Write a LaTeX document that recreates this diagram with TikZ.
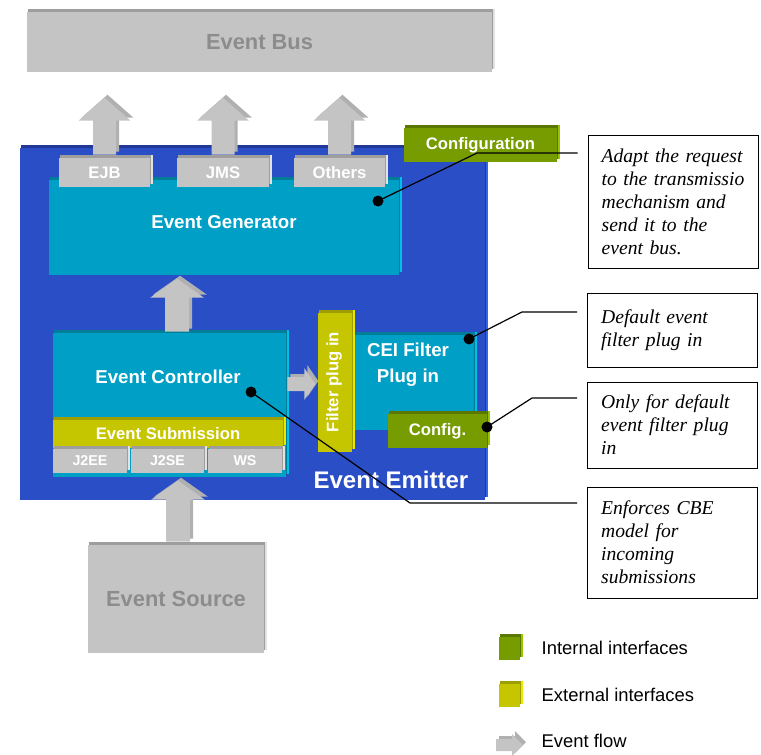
\documentclass[tikz,border=0pt]{standalone}
\usepackage{fontspec}
\setmainfont{Liberation Sans}
\newfontfamily\notefont{Liberation Serif}
\usetikzlibrary{calc,shadows}

\definecolor{emitterblue}{RGB}{42,78,198}
\definecolor{emittertop}{RGB}{34,56,150}
\definecolor{emitterside}{RGB}{52,100,238}
\definecolor{boxcyan}{RGB}{0,159,198}
\definecolor{cyantop}{RGB}{0,126,152}
\definecolor{cyanside}{RGB}{0,192,232}
\definecolor{intgreen}{RGB}{118,156,0}
\definecolor{greentop}{RGB}{90,120,0}
\definecolor{greenside}{RGB}{152,196,0}
\definecolor{extyellow}{RGB}{198,198,0}
\definecolor{yellowtop}{RGB}{158,158,0}
\definecolor{yellowside}{RGB}{232,232,0}
\definecolor{plaingray}{RGB}{196,196,196}
\definecolor{graytop}{RGB}{158,158,158}
\definecolor{grayside}{RGB}{226,226,226}
\definecolor{graytext}{RGB}{140,140,140}
\definecolor{flowside}{RGB}{176,176,176}

\tikzset{
    dims/.style 2 args={minimum width=#1*0.75pt, minimum height=#2*0.75pt},
    slab/.style n args={3}{inner sep=0pt, draw=none, fill=#1,
        copy shadow={shadow xshift=2.25pt, shadow yshift=2.25pt, fill=#3, draw=none},
        copy shadow={shadow xshift=1.1pt, shadow yshift=2.25pt, fill=#2, draw=none}},
    emitter/.style = {slab={emitterblue}{emittertop}{emitterside}},
    part/.style = {slab={boxcyan}{cyantop}{cyanside}},
    intface/.style = {slab={intgreen}{greentop}{greenside}, text=white, font=\bfseries\fontsize{12.5}{14}\selectfont},
    extface/.style = {slab={extyellow}{yellowtop}{yellowside}, text=white, font=\bfseries\fontsize{12.5}{14}\selectfont},
    outside/.style = {slab={plaingray}{graytop}{grayside}, text=graytext, font=\bfseries\fontsize{16.4}{18}\selectfont},
    tab/.style = {slab={plaingray}{graytop}{grayside}, text=white, font=\bfseries\fontsize{12.5}{14}\selectfont},
    subtab/.style = {tab, font=\bfseries\fontsize{10.7}{12}\selectfont},
    partlabel/.style = {text=white, align=center, font=\bfseries\fontsize{14}{19.5}\selectfont},
    flow/.style = {fill=plaingray, copy shadow={shadow xshift=2.25pt, shadow yshift=2.25pt, fill=flowside, draw=none}},
    note/.style = {draw=black, line width=0.75pt, fill=white, text width=107pt, inner xsep=10.25pt, align=left,
        font=\notefont\itshape\fontsize{14.7}{17.3}\selectfont},
    hotspot/.style = {fill=black, circle, inner sep=0pt, minimum size=8.25pt},
    leader/.style = {draw=black, line width=0.9pt},
    keytext/.style = {anchor=west, font=\fontsize{13.8}{16}\selectfont}
}

% block arrows: base point, length, shaft half width, head half width, head length (in px)
\newcommand{\flowup}[5]{%
  \fill[flow] (#1) ++(-#3,0) -- ++(0,{-(#2-#5)}) -- ++({#3-#4},0) -- ++(#4,-#5) -- ++(#4,#5) -- ++({#3-#4},0) -- ++(0,{#2-#5}) -- cycle;}
\newcommand{\flowright}[5]{%
  \fill[flow] (#1) ++(0,-#3) -- ++({#2-#5},0) -- ++(0,{#3-#4}) -- ++(#5,#4) -- ++(-#5,#4) -- ++(0,{#3-#4}) -- ++({-(#2-#5)},0) -- cycle;}

\begin{document}
\begin{tikzpicture}[x=0.75pt, y=-0.75pt]
\useasboundingbox (0,0) rectangle (761,754);

% bus and emitter
\node (bus) [outside, dims={465}{60}] at (259.5,42) {Event Bus};
\node (emitter) [emitter, dims={465}{352}] at (252.5,324) {};
\node (generator) [part, dims={350}{95}] at (224,227.5) {};
\node (genlabel) [partlabel] at (224,222) {Event Generator};

% transports
\node (ejb) [tab, dims={91}{29}] at (104.5,172.5) {EJB};
\node (jms) [tab, dims={92}{29}] at (223,172.5) {JMS};
\node (others) [tab, dims={91}{29}] at (339.5,172.5) {Others};
\flowup{$(ejb.north)+(0,-3)$}{57}{11.5}{26}{23}
\flowup{$(jms.north)+(0,-3)$}{57}{11.5}{26}{23}
\flowup{$(others.north)+(0,-3)$}{57}{11.5}{26}{23}
\node (config) [intface, dims={153}{34}] at (480.5,145) {Configuration};

% controller
\node (controller) [part, dims={233}{144}] at (169.5,405) {};
\node (ctrllabel) [partlabel] at (168,377) {Event Controller};
\node (submission) [extface, dims={230}{28}] at (168,434) {Event Submission};
\node (j2ee) [subtab, dims={74}{24}] at (90,461) {J2EE};
\node (j2se) [subtab, dims={73}{24}] at (167.5,461) {J2SE};
\node (ws) [subtab, dims={74}{24}] at (245,461) {WS};
\flowup{$(controller.north)+(7.5,-1)$}{53}{12}{27}{19}

% filter
\node (cei) [part, dims={119}{95}] at (414.5,382.5) {};
\node (ceilabel) [partlabel] at (408,365) {CEI Filter\\Plug in};
\node (plug) [extface, dims={34}{139}] at (335,382.5) {};
\node (pluglabel) [text=white, rotate=90, font=\bfseries\fontsize{12.5}{14}\selectfont] at (334,382) {Filter plug in};
\node (cfg) [intface, dims={99}{34}] at (437.5,431) {Config.};
\flowright{$(controller.east)+(1,-21)$}{28}{7}{16}{11}
\node (emitterlabel) [text=white, font=\bfseries\fontsize{18}{20}\selectfont] at (391,480) {Event Emitter};

% source
\node (source) [outside, dims={176}{108}] at (176,599) {Event Source};
\flowup{$(source.north)+(2,-3)$}{61}{12}{27}{19}

% legend
\node (keyint) [intface, dims={21}{23}] at (509.5,648.5) {};
\node (keyinttext) [keytext] at (537,648) {Internal interfaces};
\node (keyext) [extface, dims={21}{23}] at (509.5,695.5) {};
\node (keyexttext) [keytext] at (537,695) {External interfaces};
\coordinate (flowkey) at (496,745);
\flowright{flowkey}{27}{6}{11}{11}
\node (keyflowtext) [keytext] at (537,741) {Event flow};

% notes
\node (note1) [note, minimum height=99.75pt] at (673,201.5) {Adapt the request\\to the transmissio\\mechanism and\\send it to the\\event bus.};
\node (note2) [note, minimum height=55.5pt] at (672.5,330) {Default event\\filter plug in};
\node (note3) [note, minimum height=64.5pt] at (672.5,425) {Only for default\\event filter plug\\in};
\node (note4) [note, minimum height=83.25pt] at (672.5,542.5) {Enforces CBE\\model for\\incoming\\submissions};

% leaders
\node (gendot) [hotspot] at (378,201) {};
\node (ceidot) [hotspot] at (469,339) {};
\node (cfgdot) [hotspot] at (487,427) {};
\node (ctrldot) [hotspot] at (251,392) {};
\coordinate (bend1) at (477,153);
\coordinate (bend2) at (522,312);
\coordinate (bend3) at (532,398);
\coordinate (bend4) at (410,503);
\draw [leader] (gendot.center) -- (bend1) -- ($(bend1 -| note1.west)+(-10,0)$);
\draw [leader] (ceidot.center) -- (bend2) -- ($(bend2 -| note2.west)+(-10,0)$);
\draw [leader] (cfgdot.center) -- (bend3) -- ($(bend3 -| note3.west)+(-10,0)$);
\draw [leader] (ctrldot.center) -- (bend4) -- ($(bend4 -| note4.west)+(-10,0)$);
\end{tikzpicture}
\end{document}
